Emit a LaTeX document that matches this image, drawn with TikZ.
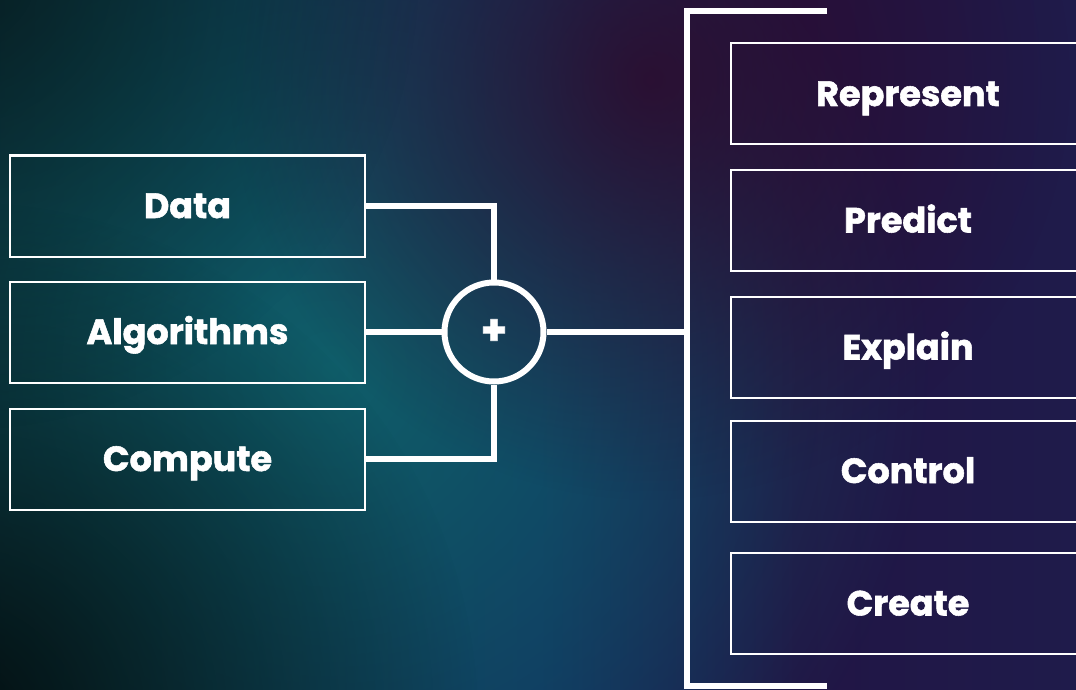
\documentclass[tikz,border=0pt]{standalone}
\usepackage{fontspec}
\setmainfont{Poppins}[BoldFeatures={FakeBold=1.6}]
\usetikzlibrary{fadings}

% background colours
\definecolor{bgA}{HTML}{0A2427}
\definecolor{bgB}{HTML}{0D3A46}
\definecolor{bgC}{HTML}{11305F}
\definecolor{bgD}{HTML}{211545}
\definecolor{bgE}{HTML}{1A2856}
\definecolor{glowTeal}{HTML}{0F626C}
\definecolor{glowPlum}{HTML}{2E0A2C}
\definecolor{shadeDark}{HTML}{030B0C}

\pgfdeclarehorizontalshading{backdrop}{100bp}{%
  color(0bp)=(bgA); color(30bp)=(bgB); color(50bp)=(bgC);
  color(62bp)=(bgD); color(100bp)=(bgE)}

\tikzfading[name=softglow, inner color=transparent!0, outer color=transparent!100]

\tikzset{
  wire/.style={draw=white, line width=6pt, line join=miter},
  itembox/.style={draw=white, line width=2pt, minimum height=101pt,
    text=white, font=\fontsize{35}{40}\selectfont\bfseries, inner sep=0pt,
    text height=24pt, text depth=0pt},
  leftbox/.style={itembox, minimum width=355pt},
  rightbox/.style={itembox, minimum width=354pt},
  sumnode/.style={circle, draw=white, line width=6pt, minimum size=99pt,
    text=white, font=\fontsize{42}{42}\selectfont, inner sep=0pt},
}

\begin{document}
\begin{tikzpicture}[x=1pt, y=-1pt]
  % canvas
  \useasboundingbox (0,0) rectangle (1076,690);
  \begin{scope}
    \clip (0,0) rectangle (1076,690);
    \shade[shading=backdrop] (0,0) rectangle (1076,690);
    % teal glow, left-centre
    \fill[glowTeal, path fading=softglow, fill opacity=0.9] (330,370) circle (600);
    % plum glow, upper middle
    \fill[glowPlum, path fading=softglow, fill opacity=0.85] (650,80) circle (420);
    % dark corners on the left
    \fill[shadeDark, path fading=softglow, fill opacity=0.9] (-40,720) circle (520);
    \fill[shadeDark, path fading=softglow, fill opacity=0.6] (-40,-30) circle (460);

    % inputs
    \node[leftbox] (data) at (187.5,206) {Data};
    \node[leftbox] (alg)  at (187.5,332) {Algorithms};
    \node[leftbox] (comp) at (187.5,459) {Compute};

    % combining node
    \node[sumnode] (sum) at (494,332) {\textbf{+}};

    % outcomes
    \node[rightbox] (rep)  at (908,94)    {Represent};
    \node[rightbox] (pred) at (908,220.5) {Predict};
    \node[rightbox] (expl) at (908,347.5) {Explain};
    \node[rightbox] (ctrl) at (908,471)   {Control};
    \node[rightbox] (crt)  at (908,603.5) {Create};

    % bracket gathering the outcomes
    \coordinate (hub) at (687,332);
    \coordinate (btl) at (687,11.5);
    \coordinate (btr) at (827,11.5);
    \coordinate (bbl) at (687,685.5);
    \coordinate (bbr) at (827,685.5);

    % connectors
    \draw[wire] (data.east) -| (sum.north);
    \draw[wire] (alg.east) -- (sum.west);
    \draw[wire] (comp.east) -| (sum.south);
    \draw[wire] (sum.east) -- (hub);
    \draw[wire] (btr) -- (btl) -- (bbl) -- (bbr);
  \end{scope}
\end{tikzpicture}
\end{document}
